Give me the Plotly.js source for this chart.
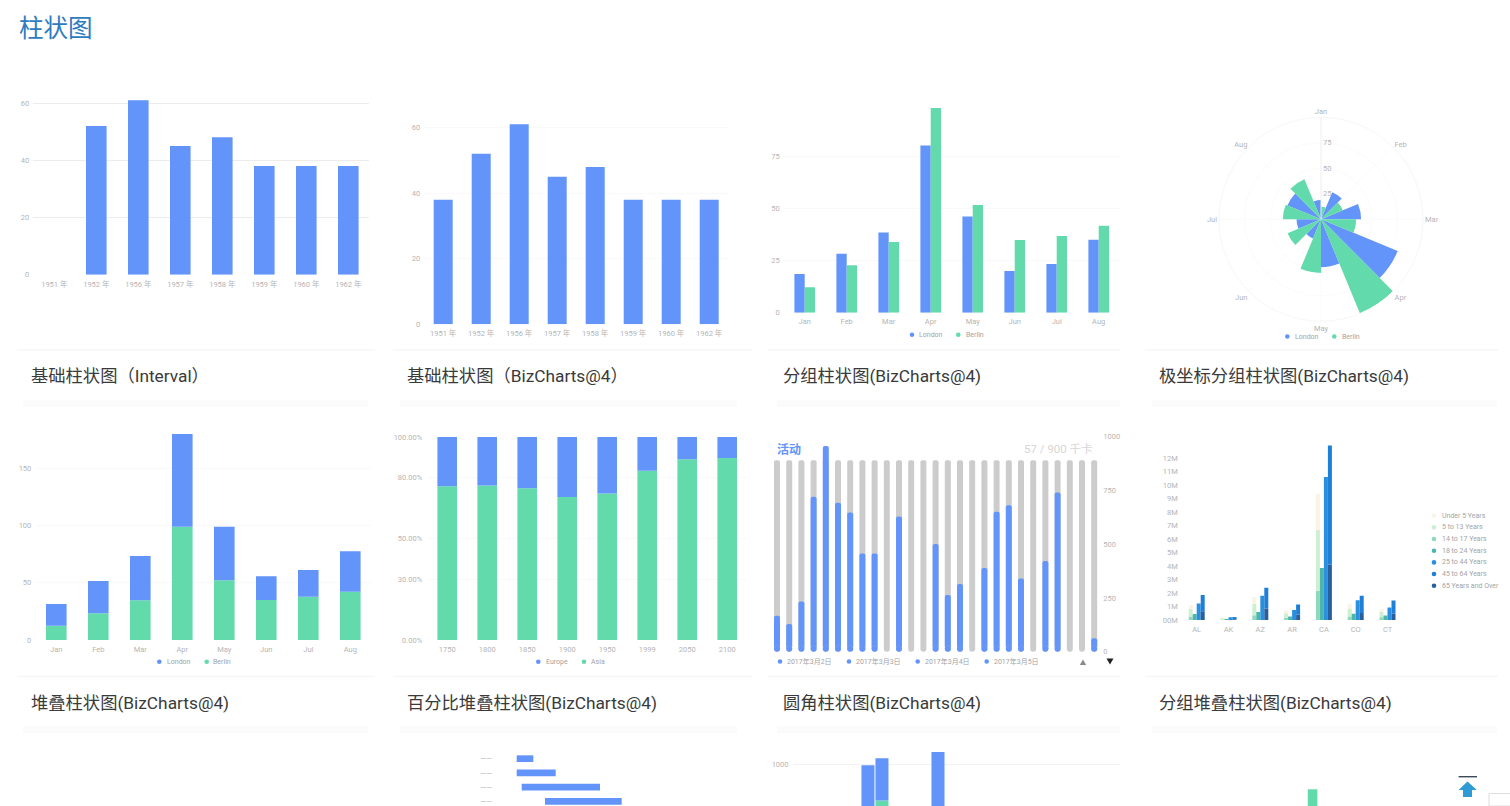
<!DOCTYPE html>
<html>
<head>
<meta charset="utf-8">
<script src="https://cdn.plot.ly/plotly-3.0.1.min.js"></script>
<style>html,body{margin:0;padding:0;background:#fff;overflow:hidden}#page{width:1510px;height:806px}</style>
</head>
<body>
<div id="page"></div>
<script>
// ---------- data ----------
const years = ['1951 年','1952 年','1956 年','1957 年','1958 年','1959 年','1960 年','1962 年'];
const salesInterval = [null,52,61,45,48,38,38,38];
const salesBiz = [38,52,61,45,48,38,38,38];
const months = ['Jan','Feb','Mar','Apr','May','Jun','Jul','Aug'];
const londonGrouped = [18.6,28.4,38.6,80.4,46.3,20,23.4,35.1];
const berlinGrouped = [12.2,22.8,34,98.4,51.8,35,36.9,41.8];
const londonPolar = [18.9,28.8,39.3,81.4,47,20.3,24,35.6];
const berlinPolar = [12.4,23.2,34.5,99.7,52.6,35.5,37.4,42.4];
const londonStacked = [19,28.3,38.8,81.1,46.9,20.7,23.3,35.3];
const berlinStacked = [12.5,23.3,34.7,99.1,52.2,35,37.9,42.3];
const pctYears = ['1750','1800','1850','1900','1950','1999','2050','2100'];
const asiaPct = [75.7,76.1,74.8,70.4,72.2,83.4,89.1,89.6];
const europePct = [24.3,23.9,25.2,29.6,27.8,16.6,10.9,10.4];
const activityDays = ['2017年3月2日','2017年3月3日','2017年3月4日','2017年3月5日'];
const activityTarget = 890;
const activity = [167,129,233,721,957,693,648,457,457,null,629,null,null,501,264,315,null,389,651,681,340,null,422,740,null,null,62];
const states = ['AL','AK','AZ','AR','CA','CO','CT'];
const ageGroups = ['Under 5 Years','5 to 13 Years','14 to 17 Years','18 to 24 Years','25 to 44 Years','45 to 64 Years','65 Years and Over'];
const under5 = [0.31,0.05,0.52,0.20,2.70,0.36,0.21];
const age5to13 = [0.55,0.09,0.83,0.34,4.50,0.59,0.40];
const age14to17 = [0.26,0.04,0.36,0.16,2.16,0.26,0.20];
const age18to24 = [0.45,0.07,0.60,0.26,3.85,0.47,0.33];
const age25to44 = [1.23,0.20,1.80,0.75,10.60,1.46,0.92];
const age45to64 = [1.22,0.18,1.52,0.73,8.82,1.29,0.97];
const age65plus = [0.64,0.05,0.86,0.41,4.11,0.51,0.48];
const ageTicks = ['00M','1M','2M','3M','4M','5M','6M','7M','8M','9M','10M','11M','12M'];
const ganttStart = [0,0,5,28.3];
const ganttLength = [16.6,39,78.3,76.7];
const partialGroupSlots = [0,1,5];
const partialBlue = [991,290,1082];
const partialGreen = [0,749,0];
const lastCardPos = [3.785];
const lastCardVal = [16.7];
const captions = ['基础柱状图（Interval）','基础柱状图（BizCharts@4）','分组柱状图(BizCharts@4)','极坐标分组柱状图(BizCharts@4)',
  '堆叠柱状图(BizCharts@4)','百分比堆叠柱状图(BizCharts@4)','圆角柱状图(BizCharts@4)','分组堆叠柱状图(BizCharts@4)'];

// ---------- helpers (pixel boxes -> paper coordinates) ----------
const W = 1510, H = 806;
const BLUE = '#6394F9', GREEN = '#63DAAB', TICK = '#b5b5b5', GRID = '#f9f9f9';
const FONT = "Roboto, 'Noto Sans CJK SC', sans-serif";
const px = v => v / W, py = v => 1 - v / H;
const layout = {
  width: W, height: H, margin: {l:0,r:0,t:0,b:0}, paper_bgcolor:'#fff', plot_bgcolor:'rgba(0,0,0,0)',
  showlegend:false, barmode:'overlay', font:{family:FONT}, annotations:[], shapes:[]
};
const traces = [];
const idx = a => a.map((_, i) => i);
function axes(n, box, xr, yr, xt, yt, o={}) {
  layout['xaxis'+n] = {domain:[px(box.l),px(box.r)], range:xr, anchor:'y'+n, showgrid:false, zeroline:false, showline:false,
    tickmode:'array', tickvals:xt?xt.v:[], ticktext:xt?xt.t:[], tickfont:{size:7.5,color:TICK,family:FONT}, ticks:'', ticklabelstandoff:o.xOff==null?3:o.xOff};
  layout['yaxis'+n] = {domain:[py(box.b),py(box.t)], range:yr, anchor:'x'+n, showgrid:!!yt, gridcolor:o.grid||GRID, gridwidth:1,
    zeroline:false, showline:false, side:o.side||'left', tickmode:'array', tickvals:yt?yt.v:[], ticktext:yt?yt.t:[],
    tickfont:{size:7.5,color:TICK,family:FONT}, ticks:'', ticklabelstandoff:o.yOff==null?3:o.yOff};
  if (o.noYGrid) layout['yaxis'+n].showgrid = false;
}
function bar(n, x, y, color, width, extra={}) {
  traces.push(Object.assign({type:'bar', x, y, width, xaxis:'x'+n, yaxis:'y'+n, marker:{color, line:{width:0}}, hoverinfo:'skip'}, extra));
}
function note(text, x, y, size, color, anchor='left', extra={}) {
  layout.annotations.push(Object.assign({text, x:px(x), y:py(y), xref:'paper', yref:'paper', showarrow:false, xanchor:anchor, yanchor:'middle',
    borderpad:0, borderwidth:0, font:{size, color, family:FONT}}, extra));
}
function rect(x0,y0,x1,y1,color) {
  layout.shapes.push({type:'rect', xref:'paper', yref:'paper', x0:px(x0), x1:px(x1), y0:py(y0), y1:py(y1), fillcolor:color, line:{width:0}, layer:'below'});
}
function dot(x,y,color,r=2.3) {
  layout.shapes.push({type:'circle', xref:'paper', yref:'paper', x0:px(x-r), x1:px(x+r), y0:py(y+r), y1:py(y-r), fillcolor:color, line:{width:0}});
}
function poly(points,color) {
  const d = points.map((p,i)=>(i?'L':'M')+px(p[0])+','+py(p[1])).join(' ')+' Z';
  layout.shapes.push({type:'path', xref:'paper', yref:'paper', path:d, fillcolor:color, line:{width:0}});
}
function legendItem(mx,tx,y,label,color){ dot(mx,y,color); note(label,tx,y,7,'#a3a3a3'); }
const add = (a,b) => a.map((v,i)=>v+b[i]);
const ticks = (v,t) => ({v, t: t || v.map(String)});

// ---------- page furniture ----------
note('柱状图',19,28.5,24.5,'#2e7cc0');
const cols = [{lx:[17,375],sx:[23,368],t:31},{lx:[393,752],sx:[400,737],t:407},{lx:[768,1120],sx:[777,1120],t:783},{lx:[1145,1498],sx:[1152,1497],t:1159}];
cols.forEach((c,i)=>{
  rect(c.lx[0],349.3,c.lx[1],350.6,'#f5f5f5');
  rect(c.lx[0],675.8,c.lx[1],677,'#f5f5f5');
  rect(c.sx[0],400,c.sx[1],407,'#fbfbfb');
  rect(c.sx[0],726,c.sx[1],733,'#fbfbfb');
  note(captions[i],c.t,376,17.3,'#3a3a3a');
  note(captions[i+4],c.t,702.5,17.3,'#3a3a3a');
});

// ---------- 1 basic bars (Interval) ----------
axes(1,{l:33.3,r:369.3,t:97.3,b:274.7},[-.5,7.5],[0,62],ticks(idx(years),years),ticks([0,20,40,60]),{grid:'#ececec',xOff:4});
bar(1,idx(years),salesInterval,BLUE,.49);
// ---------- 2 basic bars (BizCharts) ----------
axes(2,{l:424.2,r:728.2,t:121,b:324.3},[-.5,7.5],[0,62],ticks(idx(years),years),ticks([0,20,40,60]));
bar(2,idx(years),salesBiz,BLUE,.5);
// ---------- 3 grouped ----------
axes(3,{l:783.7,r:1119.7,t:104.7,b:312.7},[-.5,7.5],[0,100],ticks(idx(months),months),ticks([0,25,50,75]));
bar(3,idx(months).map(i=>i-.1225),londonGrouped,BLUE,.245);
bar(3,idx(months).map(i=>i+.1225),berlinGrouped,GREEN,.245);
legendItem(912,919.3,334.7,'London',BLUE); legendItem(958.3,966,334.7,'Berlin',GREEN);
// ---------- 4 polar grouped ----------
const R = 102, cx = 1321, cy = 219.3;
layout.polar = {domain:{x:[px(cx-R),px(cx+R)], y:[py(cy+R),py(cy-R)]}, bgcolor:'rgba(0,0,0,0)', barmode:'overlay',
  angularaxis:{direction:'clockwise', rotation:90, tickmode:'array', tickvals:idx(months).map(i=>i*45), ticktext:months,
    gridcolor:'#fbfbfb', linecolor:'#f7f7f7', ticks:'', tickfont:{size:7.5,color:TICK,family:FONT}},
  radialaxis:{range:[0,100], tickmode:'array', tickvals:[25,50,75], ticktext:['25','50','75'], angle:90, tickangle:90, gridcolor:'#fbfbfb', linecolor:'#f0f0f0', ticks:'', tickfont:{size:7.5,color:TICK,family:FONT}}};
traces.push({type:'barpolar', subplot:'polar', r:londonPolar, theta:idx(months).map(i=>i*45-11.25), width:22.5, marker:{color:BLUE,line:{width:0}}, hoverinfo:'skip'});
traces.push({type:'barpolar', subplot:'polar', r:berlinPolar, theta:idx(months).map(i=>i*45+11.25), width:22.5, marker:{color:GREEN,line:{width:0}}, hoverinfo:'skip'});
legendItem(1287.3,1295,336.5,'London',BLUE); legendItem(1334.3,1341.7,336.5,'Berlin',GREEN);
// ---------- 5 stacked ----------
axes(5,{l:35.3,r:371.3,t:432,b:640},[-.5,7.5],[0,182],ticks(idx(months),months),ticks([0,50,100,150]));
bar(5,idx(months),berlinStacked,GREEN,.49);
bar(5,idx(months),londonStacked,BLUE,.49,{base:berlinStacked});
legendItem(159.3,166.7,661.7,'London',BLUE); legendItem(206.7,213.3,661.7,'Berlin',GREEN);
// ---------- 6 percent stacked ----------
axes(6,{l:427.2,r:747.2,t:437,b:640},[-.5,7.5],[0,100],ticks(idx(pctYears),pctYears),ticks([0,30,50,80,100],['0.00%','30.00%','50.00%','80.00%','100.00%']),{yOff:4});
bar(6,idx(pctYears),asiaPct,GREEN,.49);
bar(6,idx(pctYears),europePct,BLUE,.49,{base:asiaPct});
legendItem(538.3,545.7,661.7,'Europe',BLUE); legendItem(584,591,661.7,'Asia',GREEN);
// ---------- 7 rounded ----------
axes(7,{l:770.9,r:1100.3,t:436.7,b:651.7},[-.5,26.5],[0,1000],null,ticks([0,250,500,750,1000]),{side:'right',noYGrid:true,yOff:2});
const capBase = 14;
bar(7,idx(activity),activity.map(()=>activityTarget-capBase),'#cccccc',.49,{base:activity.map(()=>capBase),marker:{color:'#cccccc',cornerradius:3,line:{width:0}}});
bar(7,idx(activity),activity.map(v=>v==null?null:v-capBase),BLUE,.49,{base:activity.map(()=>capBase),marker:{color:BLUE,cornerradius:3,line:{width:0}}});
traces.push({type:'scatter',mode:'markers',x:idx(activity),y:activity.map(()=>capBase),xaxis:'x7',yaxis:'y7',marker:{size:6,color:'#cccccc'},hoverinfo:'skip',cliponaxis:false});
traces.push({type:'scatter',mode:'markers',x:idx(activity),y:activity.map(v=>v==null?null:capBase),xaxis:'x7',yaxis:'y7',marker:{size:6,color:BLUE},hoverinfo:'skip',cliponaxis:false});
note('<b>活动</b>',776.7,449,12,BLUE);
note('57 / 900 千卡',1093,449,11.5,'#d6d6d6','right');
activityDays.forEach((d,i)=>legendItem([780,849,917.7,986.7][i],[787,856,924.5,993.5][i],661.5,d,BLUE));
poly([[1083,659.5],[1079.8,665],[1086.2,665]],'#8a8a8a');
poly([[1106.5,658.5],[1113.5,658.5],[1110,664.5]],'#222');
// ---------- 8 grouped stacked ----------
axes(8,{l:1180.8,r:1403.4,t:441.8,b:620},[-.5,6.5],[0,13.2],ticks(idx(states),states),ticks(ageTicks.map((_,i)=>i),ageTicks),{noYGrid:true,yOff:2});
const ageColors = ['#FBF4E6','#CFEFD2','#8FD8BE','#4DB6AC','#2B8FE0','#1E7FD8','#2A5F9E'];
const col = k => idx(states).map(i=>i+(k-1.5)*.1258), colW = .1258;
const s1a = age14to17, s1b = add(s1a,age5to13);
bar(8,col(0),age14to17,ageColors[2],colW);
bar(8,col(0),age5to13,ageColors[1],colW,{base:s1a});
bar(8,col(0),under5,ageColors[0],colW,{base:s1b});
bar(8,col(1),age18to24,ageColors[3],colW);
bar(8,col(2),age25to44,ageColors[4],colW);
bar(8,col(3),age65plus,ageColors[6],colW);
bar(8,col(3),age45to64,ageColors[5],colW,{base:age65plus});
ageGroups.forEach((g,i)=>legendItem(1434,1441.7,515.7+i*11.67,g,ageColors[i]));
// ---------- bottom row (cut by the window) ----------
axes(9,{l:495,r:737,t:750,b:806},[-21.7,220.3],[3.33,-.61],null,ticks([0,1,2,3],['——','——','——','——']),{noYGrid:true,yOff:2});
traces.push({type:'bar',orientation:'h',y:[0,1,2,3],x:ganttLength,base:ganttStart,width:.47,xaxis:'x9',yaxis:'y9',marker:{color:BLUE,line:{width:0}},hoverinfo:'skip'});
axes(10,{l:792.5,r:1120,t:750,b:806},[-5.39,18],[712,1096],null,ticks([1000]),{grid:'#f3f3f3'});
bar(10,partialGroupSlots,partialGreen,GREEN,.93);
bar(10,partialGroupSlots,partialBlue,BLUE,.93,{base:partialGreen});
axes(11,{l:1147,r:1497,t:780,b:806},[0,8],[0,26],null,null);
bar(11,lastCardPos,lastCardVal,GREEN,.22);
// back-to-top icon and corner box
rect(1458.6,776,1477,777.4,'#3b4a57');
poly([[1467.5,781.5],[1476.8,790],[1472,790],[1472,797],[1463,797],[1463,790],[1458.6,790]],'#2f9bd6');
layout.shapes.push({type:'rect',xref:'paper',yref:'paper',x0:px(1489),x1:px(1512),y0:py(806),y1:py(793.5),fillcolor:'#fff',line:{color:'#dddddd',width:1}});
rect(1494,798,1506,799,'#e0e0e0'); rect(1494,802,1506,803,'#e0e0e0');

Plotly.newPlot('page', traces, layout, {displayModeBar:false, staticPlot:true});
</script>
</body>
</html>
